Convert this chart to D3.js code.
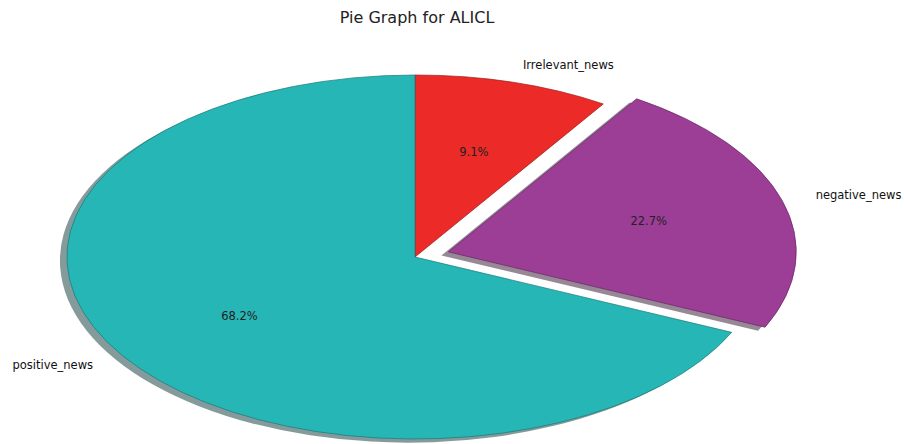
<!DOCTYPE html>
<html>
<head>
<meta charset="utf-8">
<script src="https://cdn.jsdelivr.net/npm/d3@7/dist/d3.min.js"></script>
<style>
  html, body { margin: 0; padding: 0; background: #fff; }
  svg { display: block; font-family: "DejaVu Sans", sans-serif; }
</style>
</head>
<body>
<svg id="chart" width="904" height="444"></svg>
<script>
// News sentiment breakdown for ALICL
const categories = ["Irrelevant_news", "negative_news", "positive_news"];
const shares = [9.1, 22.7, 68.2];
const colors = ["#ec2a27", "#9c3d96", "#27b6b6"];
const explode = [0, 0.1, 0];

const W = 904, H = 444;
const cx = 415, cy = 257;   // pie centre
const rx = 348, ry = 182;   // axes are not equal-aspect, so the pie is an ellipse

const svg = d3.select("#chart");

svg.append("text")
  .attr("x", W / 2 - 35).attr("y", 23)
  .attr("text-anchor", "middle")
  .attr("font-size", 16)
  .attr("fill", "#222")
  .text("Pie Graph for ALICL");

// Map unit-circle coordinates onto the ellipse
const sx = d3.scaleLinear().domain([-1, 1]).range([cx - rx, cx + rx]);
const sy = d3.scaleLinear().domain([-1, 1]).range([cy - ry, cy + ry]);

const pie = d3.pie().sort(null).value(d => d.v);
const arcs = pie(categories.map((c, i) => ({ c, v: shares[i], color: colors[i], ex: explode[i] })));

const arcUnit = d3.arc().innerRadius(0).outerRadius(1);

const g = svg.append("g")
  .attr("transform", `translate(${cx},${cy}) scale(${rx},${ry})`);

function offset(d) {
  const mid = (d.startAngle + d.endAngle) / 2;
  return [d.data.ex * Math.sin(mid), -d.data.ex * Math.cos(mid)];
}

// drop shadows, drawn beneath every wedge
g.selectAll("path.shadow").data(arcs).join("path")
  .attr("class", "shadow")
  .attr("d", arcUnit)
  .attr("transform", d => { const [ox, oy] = offset(d); return `translate(${ox - 0.02},${oy + 0.02})`; })
  .attr("fill", d => { const c = d3.rgb(d.data.color); return d3.rgb(c.r * 0.3, c.g * 0.3, c.b * 0.3); })
  .attr("fill-opacity", 0.5);

// wedges
g.selectAll("path.wedge").data(arcs).join("path")
  .attr("class", "wedge")
  .attr("d", arcUnit)
  .attr("transform", d => { const [ox, oy] = offset(d); return `translate(${ox},${oy})`; })
  .attr("fill", d => d.data.color)
  .attr("stroke", d => d3.rgb(d.data.color).darker(1.2))
  .attr("stroke-opacity", 0.7)
  .attr("stroke-width", 1)
  .attr("vector-effect", "non-scaling-stroke");

// category labels outside, percentages inside
const labelDist = 1.1, pctDist = 0.6;
arcs.forEach(d => {
  const mid = (d.startAngle + d.endAngle) / 2;
  const [ox, oy] = offset(d);
  const ux = Math.sin(mid), uy = -Math.cos(mid);
  svg.append("text")
    .attr("x", sx(ox + labelDist * ux))
    .attr("y", sy(oy + labelDist * uy))
    .attr("dy", "0.35em")
    .attr("text-anchor", ux >= 0 ? "start" : "end")
    .attr("font-size", 11.5)
    .attr("fill", "#111")
    .text(d.data.c);
  svg.append("text")
    .attr("x", sx(ox + pctDist * ux))
    .attr("y", sy(oy + pctDist * uy))
    .attr("dy", "0.35em")
    .attr("text-anchor", "middle")
    .attr("font-size", 11.5)
    .attr("fill", "#222")
    .text(d3.format(".1f")(d.data.v) + "%");
});
</script>
</body>
</html>
